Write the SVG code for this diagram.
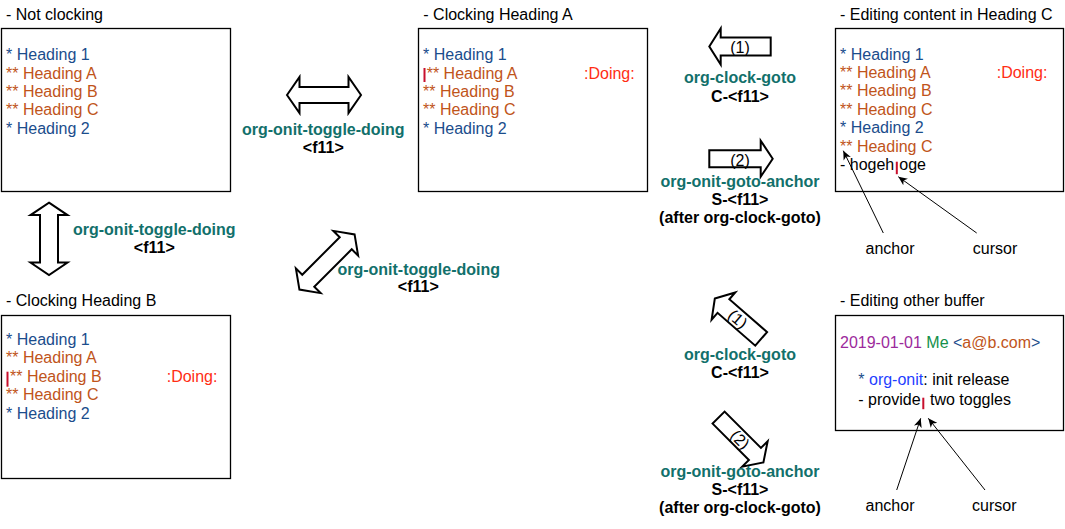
<svg xmlns="http://www.w3.org/2000/svg" width="1065" height="529" viewBox="0 0 1065 529">
<defs>
<style>
text{font-family:"Liberation Sans",Arial,Helvetica,sans-serif;font-size:16px;fill:#000}
.box{fill:#fff;stroke:#000;stroke-width:1.3}
.h1{fill:#1b4d8c}
.h2{fill:#c0541a}
.doing{fill:#ff2d14}
.cur{fill:#c8102e}
.lbl{font-weight:bold;fill:#12706b;text-anchor:middle}
.key{font-weight:bold;text-anchor:middle}
.blk{fill:#fff;stroke:#000;stroke-width:2;stroke-linejoin:miter}
.thin{fill:none;stroke:#000;stroke-width:1;marker-end:url(#ah)}
.mid{text-anchor:middle}
</style>
<marker id="ah" markerWidth="10" markerHeight="10" refX="9" refY="5" orient="auto" markerUnits="userSpaceOnUse">
<path d="M0,1 L9,5 L0,9 L2.5,5 Z" fill="#000"/>
</marker>
</defs>
<rect width="1065" height="529" fill="#fff"/>

<g id="not-clocking">
<text x="6" y="20">- Not clocking</text>
<rect class="box" x="1.5" y="28.5" width="229" height="163"/>
<text class="h1" x="6" y="60">* Heading 1</text>
<text class="h2" x="6" y="78.5">** Heading A</text>
<text class="h2" x="6" y="97">** Heading B</text>
<text class="h2" x="6" y="115.3">** Heading C</text>
<text class="h1" x="6" y="133.7">* Heading 2</text>
</g>

<g id="clocking-a">
<text x="423.3" y="20">- Clocking Heading A</text>
<rect class="box" x="418.5" y="28.5" width="229" height="163"/>
<text class="h1" x="423" y="60">* Heading 1</text>
<rect class="cur" x="423.5" y="68" width="2" height="14"/>
<text class="h2" x="426.7" y="78.5">** Heading A</text>
<text class="doing" x="584" y="78.5">:Doing:</text>
<text class="h2" x="423" y="97">** Heading B</text>
<text class="h2" x="423" y="115.3">** Heading C</text>
<text class="h1" x="423" y="133.7">* Heading 2</text>
</g>

<g id="editing-c">
<text x="840" y="20">- Editing content in Heading C</text>
<rect class="box" x="835.5" y="28.5" width="228" height="163"/>
<text class="h1" x="840" y="59.5">* Heading 1</text>
<text class="h2" x="840" y="77.9">** Heading A</text>
<text class="doing" x="996.7" y="77.9">:Doing:</text>
<text class="h2" x="840" y="96.3">** Heading B</text>
<text class="h2" x="840" y="114.7">** Heading C</text>
<text class="h1" x="840" y="133.1">* Heading 2</text>
<text class="h2" x="840" y="151.5">** Heading C</text>
<text x="840" y="169.9">- hogeh<tspan x="899.3">oge</tspan></text>
<rect class="cur" x="895.8" y="161.7" width="2" height="12.5"/>
<text class="mid" x="890" y="254">anchor</text>
<text class="mid" x="995" y="254">cursor</text>
</g>

<g id="clocking-b">
<text x="6" y="306">- Clocking Heading B</text>
<rect class="box" x="1.5" y="315.5" width="229" height="163"/>
<text class="h1" x="6" y="345">* Heading 1</text>
<text class="h2" x="6" y="363.4">** Heading A</text>
<rect class="cur" x="6.5" y="371.7" width="2" height="15"/>
<text class="h2" x="10" y="381.8">** Heading B</text>
<text class="doing" x="166.7" y="381.8">:Doing:</text>
<text class="h2" x="6" y="400.2">** Heading C</text>
<text class="h1" x="6" y="418.8">* Heading 2</text>
</g>

<g id="editing-other">
<text x="840" y="306">- Editing other buffer</text>
<rect class="box" x="835.5" y="315.5" width="228" height="115"/>
<text x="840" y="348.3"><tspan fill="#9c2a9c">2019-01-01</tspan> <tspan fill="#14904a">Me</tspan> <tspan fill="#1b4d8c">&lt;</tspan><tspan fill="#c0541a">a@b.com</tspan><tspan fill="#1b4d8c">&gt;</tspan></text>
<text x="858.3" y="385"><tspan fill="#1b4d8c">*</tspan> <tspan fill="#1f3fff">org-onit</tspan>: init release</text>
<text x="858.3" y="405">- provide<tspan x="930">two toggles</tspan></text>
<rect class="cur" x="922.3" y="397.7" width="2" height="11.5"/>
<text class="mid" x="890" y="511">anchor</text>
<text class="mid" x="994.3" y="511">cursor</text>
</g>

<g id="connectors">
<path class="blk" transform="translate(324,95)" d="M-37,0 L-24.5,-18 L-24.5,-8 L24.5,-8 L24.5,-18 L37,0 L24.5,18 L24.5,8 L-24.5,8 L-24.5,18 Z"/>
<text class="lbl" x="323.3" y="135">org-onit-toggle-doing</text>
<text class="key" x="323.3" y="152.7">&lt;f11&gt;</text>

<path class="blk" transform="translate(49,238.8) rotate(90)" d="M-36.2,0 L-23.7,-18.5 L-23.7,-9 L23.7,-9 L23.7,-18.5 L36.2,0 L23.7,18.5 L23.7,9 L-23.7,9 L-23.7,18.5 Z"/>
<text class="lbl" x="154.3" y="235">org-onit-toggle-doing</text>
<text class="key" x="154.3" y="253.3">&lt;f11&gt;</text>

<path class="blk" transform="translate(327,262) rotate(-45)" d="M-39,0 L-26.5,-17.5 L-26.5,-8.5 L26.5,-8.5 L26.5,-17.5 L39,0 L26.5,17.5 L26.5,8.5 L-26.5,8.5 L-26.5,17.5 Z"/>
<text class="lbl" x="418.7" y="275">org-onit-toggle-doing</text>
<text class="key" x="418.3" y="292">&lt;f11&gt;</text>

<g transform="translate(740,46.5)">
<path class="blk" d="M-30.7,0 L-19.3,-18 L-19.3,-9 L30.7,-9 L30.7,9 L-19.3,9 L-19.3,18 Z"/>
<text class="mid" x="0" y="6.8">(1)</text>
</g>
<text class="lbl" x="740" y="83.3">org-clock-goto</text>
<text class="key" x="740" y="101.7">C-&lt;f11&gt;</text>

<g transform="translate(741,158.7)">
<path class="blk" d="M31.7,0 L19.7,-18 L19.7,-8.5 L-31.7,-8.5 L-31.7,8.5 L19.7,8.5 L19.7,18 Z"/>
<text class="mid" x="-1" y="7">(2)</text>
</g>
<text class="lbl" x="740" y="186.7">org-onit-goto-anchor</text>
<text class="key" x="740" y="205">S-&lt;f11&gt;</text>
<text class="key" x="740" y="223.3">(after org-clock-goto)</text>

<g transform="translate(738,318.7) rotate(41)">
<path class="blk" d="M-30.7,0 L-19.3,-18 L-19.3,-9 L30.7,-9 L30.7,9 L-19.3,9 L-19.3,18 Z"/>
<text class="mid" x="0" y="6">(1)</text>
</g>
<text class="lbl" x="740" y="360">org-clock-goto</text>
<text class="key" x="740" y="378.3">C-&lt;f11&gt;</text>

<g transform="translate(741,440) rotate(45)">
<path class="blk" d="M31.7,0 L19.7,-18 L19.7,-8.5 L-31.7,-8.5 L-31.7,8.5 L19.7,8.5 L19.7,18 Z"/>
<text class="mid" x="-1" y="6">(2)</text>
</g>
<text class="lbl" x="740" y="476.7">org-onit-goto-anchor</text>
<text class="key" x="740" y="495">S-&lt;f11&gt;</text>
<text class="key" x="740" y="513.3">(after org-clock-goto)</text>

<line class="thin" x1="883.3" y1="233" x2="843.3" y2="150.7"/>
<line class="thin" x1="976.7" y1="233" x2="898.3" y2="176.7"/>
<line class="thin" x1="896.7" y1="490" x2="920.7" y2="418.3"/>
<line class="thin" x1="985" y1="490" x2="928.3" y2="418.3"/>
</g>
</svg>
